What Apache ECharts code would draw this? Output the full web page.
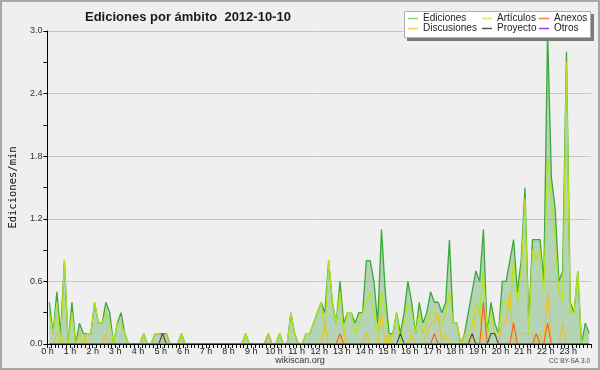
<!DOCTYPE html>
<html><head><meta charset="utf-8">
<script src="https://cdn.jsdelivr.net/npm/echarts@6/dist/echarts.min.js"></script>
<style>html,body{margin:0;padding:0;background:#efeff0}#c{width:600px;height:370px}</style>
</head><body><div id="c"></div>
<script>
const hourLabels = ['0 h','1 h','2 h','3 h','4 h','5 h','6 h','7 h','8 h','9 h','10 h','11 h','12 h','13 h','14 h','15 h','16 h','17 h','18 h','19 h','20 h','21 h','22 h','23 h'];
const yTickLabels = ['0.0','0.6','1.2','1.8','2.4','3.0'];
const seriesNames = ['Ediciones','Artículos','Anexos','Discusiones','Proyecto','Otros'];

// values per 10-minute slot (edits/min), 144 slots
const ediciones = [
 0.4,0.1,0.5,0.1,0.8,0,0.4,0,0.2,0.1,0.1,0.1,
 0.4,0.2,0.2,0.4,0.3,0,0.2,0.3,0.1,0,0,0,
 0,0.1,0,0,0.1,0.1,0.1,0.1,0,0,0,0.1,
 0,0,0,0,0,0,0,0,0,0,0,0,
 0,0,0,0,0.1,0,0,0,0,0,0.1,0,
 0,0.1,0,0,0.3,0.1,0,0,0.1,0.1,0.2,0.3,
 0.4,0.3,0.8,0.4,0.2,0.6,0.2,0.3,0.3,0.2,0.3,0.3,
 0.8,0.8,0.6,0.2,1.1,0.5,0.1,0.1,0.3,0.1,0.3,0.6,
 0.4,0.1,0.4,0.2,0.3,0.5,0.4,0.4,0.3,0.4,1.0,0.2,
 0.2,0,0.1,0.3,0.5,0.7,0.6,1.1,0.1,0.4,0.2,0.1,
 0.6,0.6,0.8,1.0,0.5,0.8,1.5,0.2,1.0,1.0,1.0,0.6,
 3.0,1.6,1.3,0.6,0.7,2.8,0.4,0.3,0.7,0,0.2,0.1];
const articulos = [
 0.3,0.1,0.4,0,0.8,0,0.3,0,0.1,0,0.1,0.1,
 0.4,0.2,0.2,0.3,0.2,0,0.2,0.2,0.1,0,0,0,
 0,0.1,0,0,0.1,0.1,0,0,0,0,0,0.1,
 0,0,0,0,0,0,0,0,0,0,0,0,
 0,0,0,0,0.1,0,0,0,0,0,0,0,
 0,0.1,0,0,0.3,0.1,0,0,0.1,0.1,0.2,0.3,
 0.4,0.1,0.8,0.4,0.2,0.5,0.1,0.3,0.3,0.1,0.2,0.3,
 0.4,0.5,0.3,0.1,0.5,0.3,0,0.1,0.3,0,0.2,0.4,
 0.3,0.1,0.3,0.1,0.2,0.3,0.3,0.2,0.2,0.3,0.5,0.2,
 0.2,0,0,0.1,0.2,0.4,0.3,0.7,0.1,0.3,0.1,0.1,
 0.4,0.4,0.3,0.8,0.4,0.7,1.4,0.1,0.9,0.8,0.9,0.5,
 1.8,1.4,1.0,0.5,0.4,2.7,0.3,0.3,0.7,0,0.1,0.1];
const anexos = [
 0,0,0,0,0,0,0,0,0,0,0,0,
 0,0,0,0,0,0,0,0,0,0,0,0,
 0,0,0,0,0,0,0,0,0,0,0,0,
 0,0,0,0,0,0,0,0,0,0,0,0,
 0,0,0,0,0,0,0,0,0,0,0,0,
 0,0,0,0,0,0,0,0,0,0,0,0,
 0,0,0,0,0,0.1,0,0,0,0,0,0,
 0,0,0,0,0,0,0,0,0,0,0,0,
 0,0,0,0,0,0,0.1,0,0,0,0,0,
 0,0,0,0,0,0,0,0.4,0,0,0,0,
 0,0,0,0.2,0,0,0,0,0,0.1,0,0,
 0.2,0,0,0,0,0,0,0,0,0,0,0];
const discusiones = [
 0,0,0.1,0.1,0,0,0,0,0.1,0.1,0,0,
 0,0,0,0.1,0,0,0,0,0,0,0,0,
 0,0,0,0,0,0,0,0.1,0,0,0,0,
 0,0,0,0,0,0,0,0,0,0,0,0,
 0,0,0,0,0,0,0,0,0,0,0.1,0,
 0,0,0,0,0,0,0,0,0,0,0,0,
 0,0.2,0,0,0,0,0.1,0,0,0,0,0,
 0.1,0,0,0,0.3,0,0.1,0,0,0,0,0,
 0.1,0,0,0,0.1,0.2,0.2,0.3,0,0.1,0,0,
 0,0,0.1,0,0,0.3,0.3,0,0,0,0,0,
 0.2,0.2,0.5,0,0.1,0.1,0.1,0.1,0.1,0,0.1,0,
 0.5,0,0,0,0.2,0,0,0,0,0,0,0];
const proyecto = [
 0,0,0,0,0,0,0,0,0,0,0,0,
 0,0,0,0,0,0,0,0,0,0,0,0,
 0,0,0,0,0,0,0.1,0,0,0,0,0,
 0,0,0,0,0,0,0,0,0,0,0,0,
 0,0,0,0,0,0,0,0,0,0,0,0,
 0,0,0,0,0,0,0,0,0,0,0,0,
 0,0,0,0,0,0,0,0,0,0,0,0,
 0,0,0,0,0,0,0,0,0,0.1,0,0,
 0,0,0,0,0,0,0,0,0,0,0,0,
 0,0,0,0,0.1,0,0,0,0,0.1,0.1,0,
 0,0,0,0,0,0,0,0,0,0,0,0,
 0,0,0,0,0,0,0,0,0,0,0,0];
const otros = [
 0,0,0,0,0,0,0,0,0,0,0,0,
 0,0,0,0,0,0,0,0,0,0,0,0,
 0,0,0,0,0,0,0,0,0,0,0,0,
 0,0,0,0,0,0,0,0,0,0,0,0,
 0,0,0,0,0,0,0,0,0,0,0,0,
 0,0,0,0,0,0,0,0,0,0,0,0,
 0,0,0,0,0,0,0,0,0,0,0,0,
 0,0,0,0,0,0,0,0,0,0,0,0,
 0,0,0,0,0,0,0,0,0,0,0,0,
 0,0,0,0,0,0,0,0,0,0,0,0,
 0,0,0,0,0,0,0,0,0,0,0,0,
 0,0,0,0,0,0,0,0,0,0,0,0];

// each value sits at the centre of its 10-minute slot (hours)
const toPts = arr => arr.map((v, i) => [i / 6 + 1 / 12, v]);
const FONT = 'Liberation Sans';

const legendColors = {Ediciones:'#80d080','Artículos':'#c8f060',Anexos:'#f08050',Discusiones:'#f5d050',Proyecto:'#555555',Otros:'#9040f0'};
const legendPos = {Ediciones:[408,13],'Artículos':[482,13],Anexos:[539,13],Discusiones:[408,23],Proyecto:[482,23],Otros:[539,23]};
const legends = seriesNames.map(n => ({
  data:[{name:n, itemStyle:{color:legendColors[n]}}],
  left: legendPos[n][0], top: legendPos[n][1],
  orient:'horizontal', icon:'rect', itemWidth:10, itemHeight:1.5, padding:0,
  selectedMode:false, z:20,
  textStyle:{fontFamily:FONT, fontSize:10, color:'#222', lineHeight:11}
}));

const lineSeries = (name, data, color, width, extra) => Object.assign({
  name, type:'line', data: toPts(data), symbol:'none', silent:true,
  lineStyle:{color, width}, itemStyle:{color}
}, extra || {});

const chart = echarts.init(document.getElementById('c'));
chart.setOption({
  animation:false,
  backgroundColor:'#efeff0',
  title:{text:'Ediciones por ámbito  2012-10-10', left:80, top:6,
    textStyle:{fontFamily:FONT, fontWeight:'bold', fontSize:13, color:'#1a1a1a'}},
  legend: legends,
  grid:{left:45, right:9, top:31, bottom:26},
  xAxis:{type:'value', min:0, max:24, interval:1, z:10,
    axisLine:{lineStyle:{color:'#000', width:1}},
    axisTick:{length:4, lineStyle:{color:'#000'}},
    minorTick:{show:true, splitNumber:6, length:4, lineStyle:{color:'#000'}},
    splitLine:{show:false},
    axisLabel:{margin:3, fontFamily:FONT, fontSize:9, color:'#222',
      formatter: v => hourLabels[v] || ''}},
  yAxis:{type:'value', min:0, max:3, interval:0.6,
    name:'Ediciones/min', nameLocation:'middle', nameGap:28, nameRotate:90,
    nameTextStyle:{fontFamily:'DejaVu Sans Mono', fontSize:10.5, color:'#111'},
    axisLine:{show:true, lineStyle:{color:'#000'}},
    axisTick:{length:4, lineStyle:{color:'#000'}},
    minorTick:{show:true, splitNumber:2, length:4, lineStyle:{color:'#000'}},
    splitLine:{lineStyle:{color:'#c8c8c8', width:1}},
    axisLabel:{margin:5, fontFamily:FONT, fontSize:9, color:'#333',
      formatter: v => yTickLabels[Math.round(v / 0.6)] || ''}},
  graphic:[
    {type:'rect', shape:{x:1, y:1, width:598, height:368}, style:{fill:null, stroke:'#a8a8a8', lineWidth:2}, z:1},
    {type:'rect', shape:{x:407, y:14, width:187, height:27}, style:{fill:'#7a7a7a'}, z:15},
    {type:'rect', shape:{x:404.5, y:11.5, width:186, height:26}, style:{fill:'#ffffff', stroke:'#b0b0b0', lineWidth:1}, z:16},
    {type:'text', left:'center', top:356, style:{text:'wikiscan.org', fontFamily:FONT, fontSize:9, fill:'#333'}},
    {type:'text', right:10, top:358, style:{text:'CC BY-SA 3.0', fontFamily:FONT, fontSize:6.5, fill:'#444'}}
  ],
  series:[
    lineSeries('Ediciones', ediciones, '#3aa83a', 1.3, {areaStyle:{color:'rgba(77,165,76,0.5)'}, itemStyle:{color:'#80d080'}}),
    lineSeries('Artículos', articulos, '#b4e41c', 1.2),
    lineSeries('Discusiones', discusiones, '#f0c020', 1.1),
    lineSeries('Anexos', anexos, '#f06020', 1.1),
    lineSeries('Proyecto', proyecto, '#444444', 1.1),
    lineSeries('Otros', otros, '#9040f0', 1.1)
  ]
});
</script></body></html>
